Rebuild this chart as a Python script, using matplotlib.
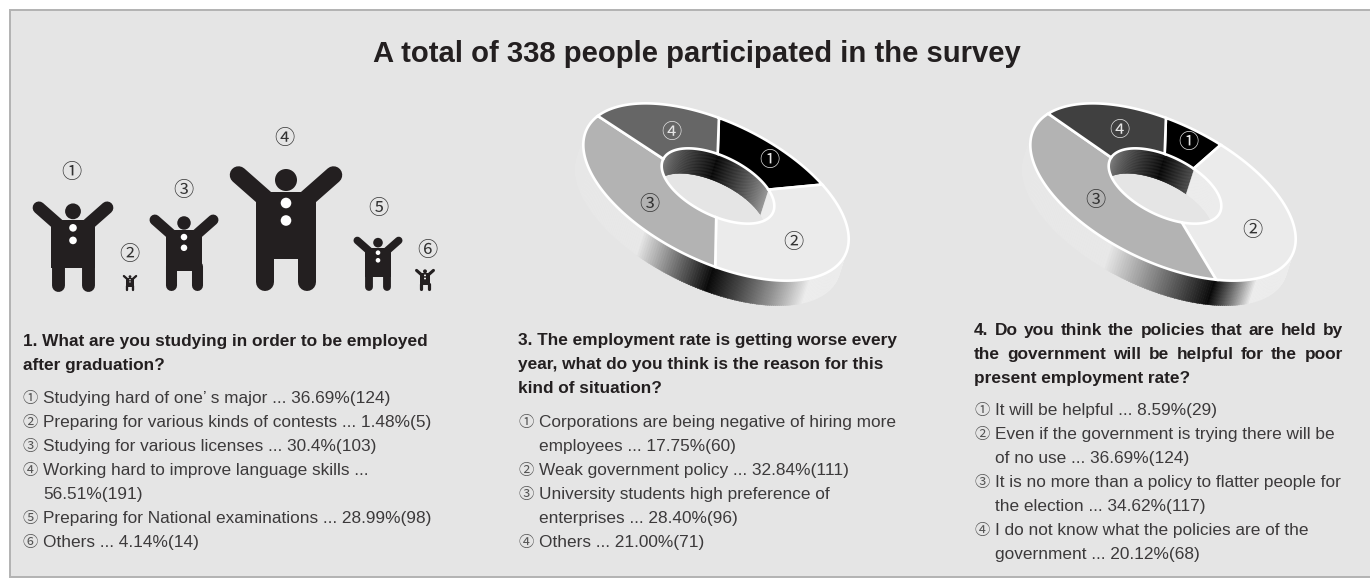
import matplotlib
matplotlib.use("Agg")
import matplotlib.pyplot as plt
import numpy as np
from matplotlib.collections import PolyCollection
from matplotlib.patches import Circle, Polygon, Rectangle

# donnees des enquetes
q1_values = [36.69, 1.48, 30.4, 56.51, 28.99, 4.14]
q3_values = [17.75, 32.84, 28.40, 21.00]
q4_values = [8.59, 36.69, 34.62, 20.12]

title = "A total of 338 people participated in the survey"
marks = ["①", "②", "③", "④", "⑤", "⑥"]

q1_head = ["1. What are you studying in order to be employed", "after graduation?"]
q1_items = [
    ("①", "Studying hard of one’ s major ... 36.69%(124)"),
    ("②", "Preparing for various kinds of contests ... 1.48%(5)"),
    ("③", "Studying for various licenses ... 30.4%(103)"),
    ("④", "Working hard to improve language skills ..."),
    ("", "56.51%(191)"),
    ("⑤", "Preparing for National examinations ... 28.99%(98)"),
    ("⑥", "Others ... 4.14%(14)"),
]
q3_head = [
    "3. The employment rate is getting worse every",
    "year, what do you think is the reason for this",
    "kind of situation?",
]
q3_items = [
    ("①", "Corporations are being negative of hiring more"),
    ("", "employees ... 17.75%(60)"),
    ("②", "Weak government policy ... 32.84%(111)"),
    ("③", "University students high preference of"),
    ("", "enterprises ... 28.40%(96)"),
    ("④", "Others ... 21.00%(71)"),
]
q4_head = [
    "4. Do you think the policies that are held by",
    "the government will be helpful for the poor",
    "present employment rate?",
]
q4_items = [
    ("①", "It will be helpful ... 8.59%(29)"),
    ("②", "Even if the government is trying there will be"),
    ("", "of no use ... 36.69%(124)"),
    ("③", "It is no more than a policy to flatter people for"),
    ("", "the election ... 34.62%(117)"),
    ("④", "I do not know what the policies are of the"),
    ("", "government ... 20.12%(68)"),
]

BG = "#e5e5e5"
INK = "#231f20"
TEXT = "#3c3a3b"
SANS = "Liberation Sans"
CJK = ["Noto Sans CJK JP", "DejaVu Sans"]
BODY = 12.45
DEPTH = np.array([-8.0, 25.0])

fig = plt.figure(figsize=(13.7, 5.78), dpi=100)
ax = fig.add_axes([0, 0, 1, 1])
ax.set_xlim(0, 1370)
ax.set_ylim(578, 0)
ax.axis("off")

# le cadre sort a droite : pas de trait de ce cote
ax.add_patch(Rectangle((10, 9.5), 1365, 567.5, fc=BG, ec="#b2b2b2", lw=1.4))
ax.text(696.5, 54, title, family=SANS, weight="bold", fontsize=21.1, color=INK,
        ha="center", va="center")


def person(cx, height):
    s = height / 124.0
    base = 291
    lw = 0.72 * s
    for side in (-1, 1):
        # bras
        ax.plot([cx + side * 18 * s, cx + side * 47.5 * s],
                [base - 90 * s, base - 116 * s],
                color=INK, lw=17.5 * lw, solid_capstyle="round", zorder=3)
        # jambes
        ax.plot([cx + side * 21 * s, cx + side * 21 * s],
                [base - 40 * s, base - 9 * s],
                color=INK, lw=18 * lw, solid_capstyle="round", zorder=3)
    ax.add_patch(Rectangle((cx - 30 * s, base - 99 * s), 60 * s, 67 * s, fc=INK, ec="none", zorder=3))
    ax.add_patch(Circle((cx, base - 111 * s), 11 * s, fc=INK, ec="none", zorder=3))
    ax.add_patch(Circle((cx, base - 88 * s), 5.3 * s, fc="white", ec="none", zorder=4))
    ax.add_patch(Circle((cx, base - 70.5 * s), 5.3 * s, fc="white", ec="none", zorder=4))


# personnages de la question 1, dans l'ordre des reponses
person_x = [73, 130, 184, 286, 378, 425]
person_h = [89, 16, 76, 124, 54, 22]
mark_xy = [(71, 173), (129, 255), (183, 191), (284, 138), (378, 208), (427, 250)]
for i in range(len(q1_values)):
    person(person_x[i], person_h[i])
    ax.text(mark_xy[i][0], mark_xy[i][1], marks[i], family=CJK, fontsize=14.5,
            color="#333333", ha="center", va="center")


def ring_point(center, a, b, phi, t):
    t = np.radians(t)
    u = a * np.cos(t)
    v = b * np.sin(t)
    c, s = np.cos(np.radians(phi)), np.sin(np.radians(phi))
    return np.column_stack([center[0] + u * c - v * s, center[1] + u * s + v * c])


def warp(t):
    # perspective : le centre vrai du disque tombe au-dessus du centre de l'ellipse
    c = -0.012 - 0.116j
    z = np.exp(1j * np.radians(t))
    return np.degrees(np.angle((z + c) / (1 + np.conj(c) * z)))


def donut(cx, values, start, colors, mark_pos, mark_colors, fade_l, fade_r):
    outer_c = (cx, 192)
    inner_c = (cx + 2, 186)
    a, b, phi = 143.7, 69.4, 26
    ra, rb = 61.0, 29.5

    edges = start + np.cumsum([0] + list(values)) / sum(values) * 360
    dark = warp(edges[2])

    # paroi exterieure, sombre a la jonction des parts 2 et 3
    ts = np.arange(dark - 180, dark + 180, 1.0)
    polys, shades = [], []
    for t in ts:
        p = ring_point(outer_c, a, b, phi, np.array([t, t + 1.2]))
        polys.append(np.vstack([p, p[::-1] + DEPTH]))
        d = t - dark
        if d >= 0:
            g = 0.04 + 0.87 * min(d / fade_l, 1)
        else:
            g = 0.04 + 0.89 * min(-d / fade_r, 1)
        shades.append((g, g, g))
    ax.add_collection(PolyCollection(polys, facecolors=shades, edgecolors=shades, lw=0.3, zorder=1))

    # trou
    hole_t = np.arange(0, 361, 2.0)
    hole = Polygon(ring_point(inner_c, ra, rb, phi, hole_t), closed=True, fc=BG, ec="none", zorder=2)
    ax.add_patch(hole)

    # paroi interieure, visible seulement dans le trou
    left = edges[3] - 360
    ts = np.arange(left - 60, edges[1] + 130, 1.0)
    polys, shades = [], []
    for t in ts:
        p = ring_point(inner_c, ra, rb, phi, np.array([t, t + 1.2]))
        polys.append(np.vstack([p, p[::-1] + DEPTH]))
        if t < left:
            g = 0.6
        elif t < start:
            g = 0.55 - 0.5 * (t - left) / (start - left)
        elif t < edges[1]:
            g = 0.02 + 0.009 * (t - start)
        else:
            g = 0.93
        shades.append((g, g, g))
    wall = PolyCollection(polys, facecolors=shades, edgecolors=shades, lw=0.3, zorder=2.1)
    ax.add_collection(wall)
    wall.set_clip_path(hole)

    # faces superieures
    for i in range(len(values)):
        t = np.arange(edges[i], edges[i + 1] + 0.5, 1.0)
        t[-1] = edges[i + 1]
        pts = np.vstack([ring_point(outer_c, a, b, phi, warp(t)),
                         ring_point(inner_c, ra, rb, phi, t[::-1])])
        ax.add_patch(Polygon(pts, closed=True, fc=colors[i], ec="white", lw=1.9, joinstyle="miter", zorder=3))
        ax.text(mark_pos[i][0], mark_pos[i][1], marks[i], family=CJK, fontsize=14.5,
                color=mark_colors[i], ha="center", va="center", zorder=5)


donut(716, q3_values, -103.6, ["#000000", "#ebebeb", "#b3b3b3", "#666666"],
      [(769, 161), (793, 242), (649, 205), (671, 133)],
      ["#e5e5e5", "#333333", "#333333", "#e5e5e5"], 32, 46)
donut(1163, q4_values, -103.6, ["#000000", "#ebebeb", "#b3b3b3", "#404040"],
      [(1188, 142), (1252, 231), (1095, 201), (1119, 131)],
      ["#e5e5e5", "#333333", "#333333", "#e5e5e5"], 46, 22)


def justified(line, x0, x1, y):
    # place les mots un par un pour remplir toute la largeur
    words = line.split(" ")
    items = [ax.text(x0, y, w, family=SANS, weight="bold", fontsize=BODY, color=INK, va="center")
             for w in words]
    fig.canvas.draw()
    r = fig.canvas.get_renderer()
    widths = [t.get_window_extent(r).width for t in items]
    gap = (x1 - x0 - sum(widths)) / (len(words) - 1)
    x = x0
    for t, w in zip(items, widths):
        t.set_x(x)
        x += w + gap


def block(head, items, x, ys, mark_x, text_x, item_ys, just=0, x1=0):
    for i, line in enumerate(head):
        if i < just:
            justified(line, x, x1, ys + i * 24)
        else:
            ax.text(x, ys + i * 24, line, family=SANS, weight="bold", fontsize=BODY,
                    color=INK, va="center")
    for i, (m, line) in enumerate(items):
        y = item_ys + i * 24
        if m:
            ax.text(mark_x, y + 0.5, m, family=CJK, fontsize=11, color="#555555", ha="center", va="center")
        ax.text(text_x, y, line, family=SANS, fontsize=BODY, color=TEXT, va="center")


block(q1_head, q1_items, 23, 341.5, 30.5, 43.5, 398.5)
block(q3_head, q3_items, 518, 340.5, 526, 539, 422.5)
block(q4_head, q4_items, 974, 330.5, 982, 995, 410.5, just=2, x1=1343)

fig.savefig("out.png", dpi=100, facecolor="white")
